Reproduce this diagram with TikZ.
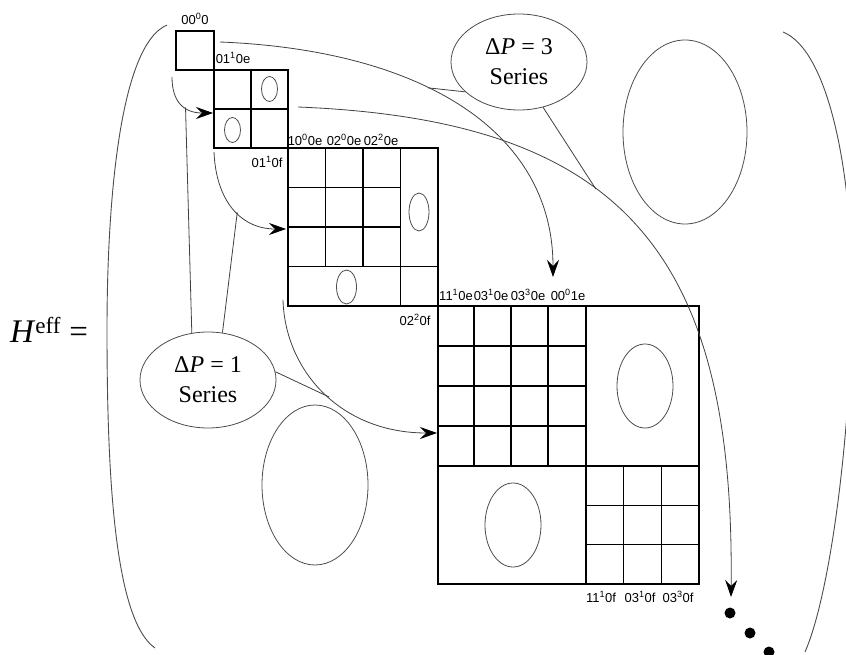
\documentclass[tikz,border=0pt]{standalone}
\usepackage{fontspec}
\setmainfont{Liberation Serif}
\newfontfamily\lblfont{Liberation Sans}
\usetikzlibrary{shapes.geometric,arrows.meta}
\tikzset{
  blk/.style={line width=1.3pt, black},
  blkthick/.style={line width=2.2pt, black},
  oval/.style={line width=0.8pt, black!70},
  conn/.style={line width=0.8pt, black!75},
  arr/.style={conn, -{Stealth[length=17pt, width=12pt, inset=6pt, color=black]}},
  brack/.style={line width=0.9pt, black!70},
  lbl/.style={font=\lblfont\fontsize{13}{14}\selectfont, inner sep=0pt},
  series/.style={ellipse, draw, line width=0.8pt, black!70, text=black,
    minimum width=136pt, minimum height=96pt, inner sep=0pt, align=center,
    font=\fontsize{24}{30}\selectfont},
}
\begin{document}
\begin{tikzpicture}[x=1pt,y=-1pt]
\useasboundingbox (0,0) rectangle (846,655);
\clip (0,0) rectangle (846,655);

% H^eff =
\node[font=\fontsize{33}{36}\selectfont, inner sep=0pt] (heff) at (49,330) {\textit{H}\textsuperscript{eff} =};

% brackets
\draw[brack] (167,25) .. controls (120,45) and (107,200) .. (107,330)
              .. controls (107,480) and (115,620) .. (155,648);
\draw[brack] (783,32) .. controls (828,50) and (852,170) .. (852,290)
              .. controls (852,420) and (832,590) .. (805,652);

% block 1
\draw[blk] (176,31) rectangle (214,70);
\node[lbl] (l000) at (195,19) {00\textsuperscript{0}0};

% block 2
\draw[blk] (214,70) rectangle (288,148);
\draw[blkthick] (251,70) -- (251,148);
\draw[blkthick] (214,109) -- (288,109);
\draw[oval] (269.5,89) ellipse [x radius=8pt, y radius=12.5pt];
\draw[oval] (232.5,130) ellipse [x radius=8pt, y radius=12.5pt];
\node[lbl] (l0110e) at (233,58) {01\textsuperscript{1}0e};
\node[lbl] (l0110f) at (267,162) {01\textsuperscript{1}0f};

% block 3
\draw[blk] (288,148) rectangle (438,306);
\draw[blk] (325.5,148) -- (325.5,266.5);
\draw[blk] (363,148) -- (363,266.5);
\draw[blk] (400.5,148) -- (400.5,306);
\draw[blk] (288,187.5) -- (400.5,187.5);
\draw[blk] (288,227) -- (400.5,227);
\draw[blk] (288,266.5) -- (438,266.5);
\draw[oval] (419,212) ellipse [x radius=10pt, y radius=19pt];
\draw[oval] (346.5,287) ellipse [x radius=10pt, y radius=17pt];
\node[lbl] (l1000e) at (305,140) {10\textsuperscript{0}0e};
\node[lbl] (l0200e) at (344,140) {02\textsuperscript{0}0e};
\node[lbl] (l0220e) at (381,140) {02\textsuperscript{2}0e};
\node[lbl] (l0220f) at (415,320) {02\textsuperscript{2}0f};

% block 4
\draw[blk] (438,306) rectangle (699,584);
\draw[blk] (474,306) -- (474,466);
\draw[blk] (511,306) -- (511,466);
\draw[blk] (548,306) -- (548,466);
\draw[blk] (586,306) -- (586,584);
\draw[blk] (438,346) -- (586,346);
\draw[blk] (438,386) -- (586,386);
\draw[blk] (438,426) -- (586,426);
\draw[blk] (438,466) -- (699,466);
\draw[blk] (623.7,466) -- (623.7,584);
\draw[blk] (661.3,466) -- (661.3,584);
\draw[blk] (586,505.3) -- (699,505.3);
\draw[blk] (586,544.7) -- (699,544.7);
\draw[oval] (645,386) ellipse [x radius=28pt, y radius=42pt];
\draw[oval] (513,525) ellipse [x radius=28pt, y radius=42pt];
\node[lbl] (l1110e) at (456,295) {11\textsuperscript{1}0e};
\node[lbl] (l0310e) at (491,295) {03\textsuperscript{1}0e};
\node[lbl] (l0330e) at (528,295) {03\textsuperscript{3}0e};
\node[lbl] (l0001e) at (568,295) {00\textsuperscript{0}1e};
\node[lbl] (l1110f) at (601,597) {11\textsuperscript{1}0f};
\node[lbl] (l0310f) at (640,597) {03\textsuperscript{1}0f};
\node[lbl] (l0330f) at (678,597) {03\textsuperscript{3}0f};

% free ellipses
\draw[oval] (685,132) ellipse [x radius=62pt, y radius=92pt];
\draw[oval] (315,485) ellipse [x radius=53pt, y radius=80pt];

% series labels
\node[series] (dp1) at (208,380) {Δ\textit{P} = 1\\Series};
\node[series] (dp3) at (519,62) {Δ\textit{P} = 3\\Series};

% curve end points
\coordinate (a0) at (172,77);   \coordinate (a1) at (213,113);
\coordinate (b0) at (214,152);  \coordinate (b1) at (286,229);
\coordinate (c0) at (283,300);  \coordinate (c1) at (437,433);
\coordinate (d0) at (220,42);   \coordinate (d1) at (553,277);
\coordinate (e0) at (298,107);  \coordinate (e1) at (731,597);

% curved arrows
\draw[arr] (a0) .. controls (172,103) and (185,113) .. coordinate[pos=0.58] (pa) (a1);
\draw[arr] (b0) .. controls (216,200) and (240,229) .. coordinate[pos=0.55] (pb) (b1);
\draw[arr] (c0) .. controls (285,370) and (340,433) .. coordinate[pos=0.53] (pc) (c1);
\draw[arr] (d0) .. controls (420,50) and (553,130) .. coordinate[pos=0.41] (pd) (d1);
\draw[arr] (e0) .. controls (620,120) and (735,250) .. coordinate[pos=0.41] (pe) (e1);

% pointer lines
\draw[conn] (dp1.109) -- (pa);
\draw[conn] (dp1.73) -- (pb);
\draw[conn] (dp1.7) -- (pc);
\draw[conn] (dp3.209.5) -- (pd);
\draw[conn] (dp3.298) -- (pe);

% dots
\fill (730,613) circle [radius=5.5pt];
\fill (750,633) circle [radius=5.5pt];
\fill (769,652) circle [radius=5.5pt];
\end{tikzpicture}
\end{document}
